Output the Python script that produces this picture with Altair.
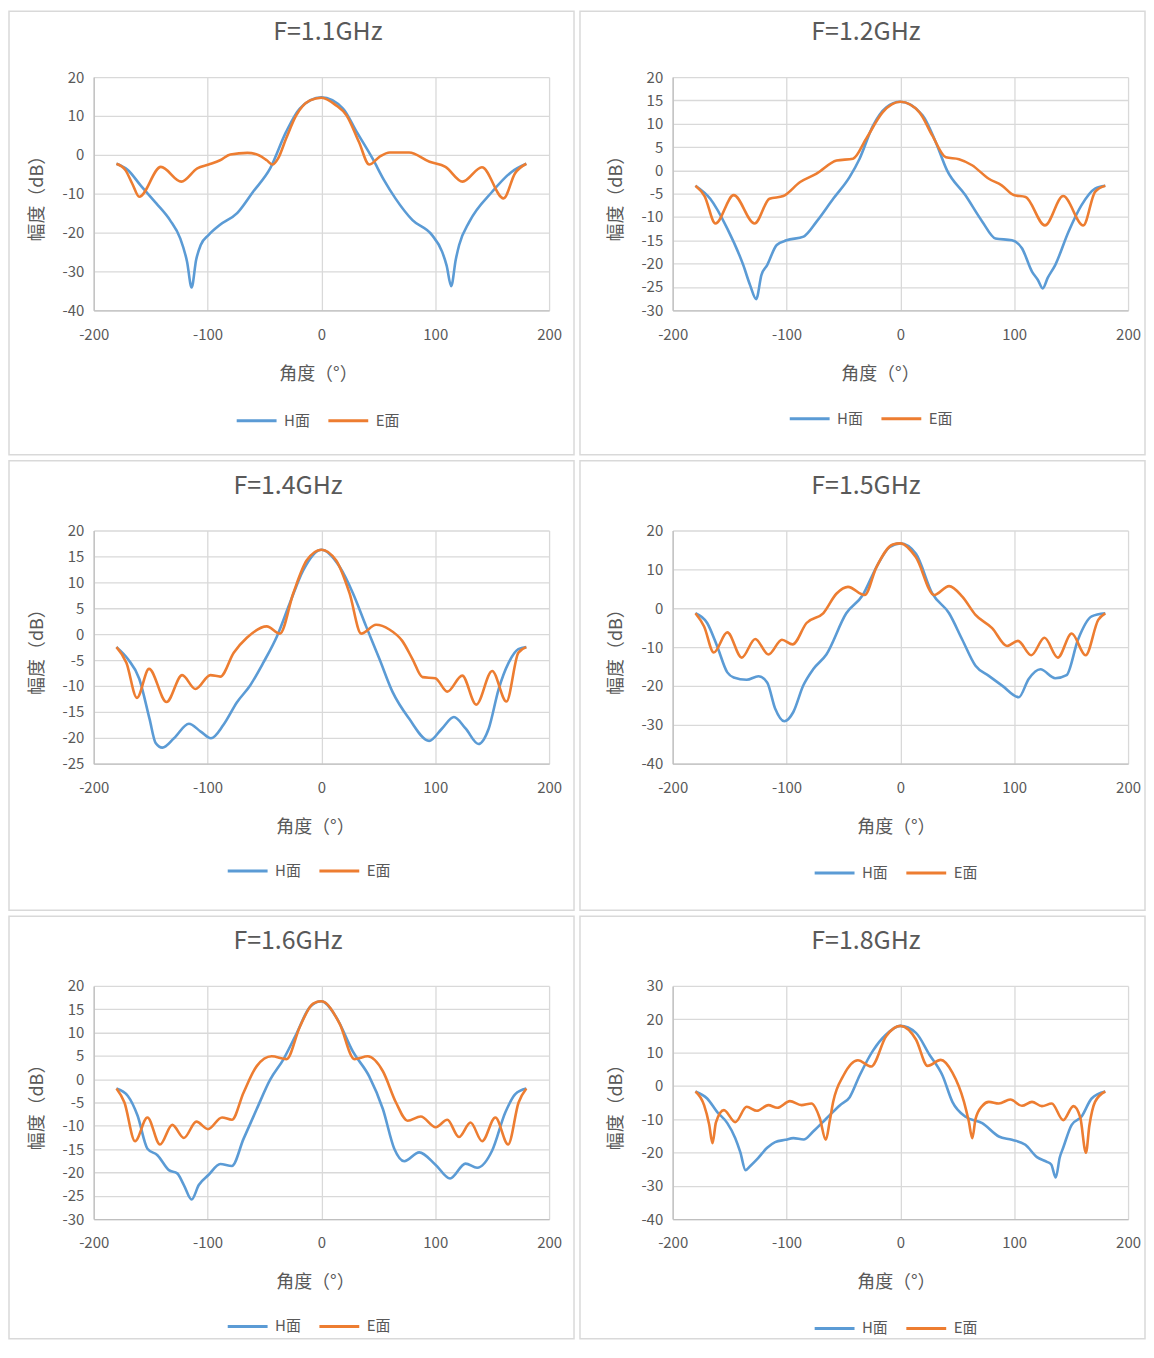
import altair as alt
import pandas as pd

FONT = "Noto Sans CJK SC"
TEXT = "#595959"
GRID = "#D9D9D9"
AXIS = "#BFBFBF"
BLUE = "#5B9BD5"
ORANGE = "#ED7D31"
SERIES = ["H面", "E面"]
X_TICKS = [-200, -100, 0, 100, 200]
X_TITLE = "角度（°）"
Y_TITLE = "幅度（dB）"

TITLES = ["F=1.1GHz", "F=1.2GHz", "F=1.4GHz", "F=1.5GHz", "F=1.6GHz", "F=1.8GHz"]

# ---------- 1.1 GHz ----------
Y11 = [-40, -30, -20, -10, 0, 10, 20]
H11_DEG = [-180, -170, -159, -145, -133, -124, -118, -114, -110, -106, -99, -89, -74, -60, -45, -31, -19, 0,
           19, 31, 45, 55, 65, 80, 97, 106, 110, 114, 118, 121, 130, 150, 167, 180]
H11_DB = [-2.3, -3.9, -7.8, -12.5, -16.8, -21.5, -27.5, -34.1, -27.0, -23.2, -20.6, -18.0, -15.0, -9.5, -3.5, 5.9, 11.9, 14.8,
          11.9, 5.9, -1.0, -6.5, -11.2, -16.8, -20.6, -24.9, -28.5, -33.8, -27.0, -23.2, -17.2, -9.5, -4.4, -2.3]
E11_DEG = [-180, -172, -166, -160, -141, -123, -109, -99, -89, -80, -65, -55, -48, -43, -38, -31, -22, -10, 0,
           13, 22, 33, 42, 51, 60, 77, 95, 109, 124, 141, 160, 170, 180]
E11_DB = [-2.3, -4.0, -7.5, -10.8, -3.1, -6.9, -3.5, -2.5, -1.4, 0.1, 0.5, -0.1, -1.4, -2.5, -0.9, 4.2, 10.2, 14.0, 14.7,
          12.7, 10.2, 3.3, -2.5, -0.5, 0.6, 0.6, -1.8, -3.1, -6.9, -3.2, -11.2, -4.8, -2.3]

# ---------- 1.2 GHz ----------
Y12 = [-30, -25, -20, -15, -10, -5, 0, 5, 10, 15, 20]
H12_DEG = [-180, -167, -152, -138, -132, -126.6, -122, -117, -108.6, -100, -85, -73.6, -59, -44.5, -35.8, -24, -12.5, 0,
           19.5, 31, 41, 57, 72, 83.5, 98, 106.8, 115.6, 120.8, 125, 129.5, 136, 147.6, 159, 171, 180]
H12_DB = [-3.3, -6.1, -12.5, -20.3, -24.6, -27.6, -22.4, -20.3, -16.0, -15.0, -14.2, -11.0, -6.1, -1.4, 2.5, 9.6, 13.5, 14.7,
          11.8, 6.1, 0.0, -5.3, -11.0, -14.6, -15.0, -16.7, -21.7, -23.5, -25.3, -23.0, -20.3, -13.2, -7.5, -3.9, -3.3]
E12_DEG = [-180, -172, -162.4, -146.4, -128, -115, -102.8, -88, -73.6, -56, -41.6, -30, -15.4, 0,
           16.6, 28, 40, 51.5, 63, 77.7, 89, 99.6, 110, 127, 143, 160.7, 171, 180]
E12_DB = [-3.3, -5.5, -11.4, -5.3, -11.4, -6.1, -5.5, -2.5, -0.7, 2.1, 2.5, 6.8, 12.5, 14.7,
          12.5, 7.5, 2.8, 2.4, 1.1, -1.8, -3.2, -5.3, -5.7, -11.8, -5.5, -11.8, -4.6, -3.3]

# ---------- 1.4 GHz ----------
Y14 = [-25, -20, -15, -10, -5, 0, 5, 10, 15, 20]
H14_DEG = [-180, -170, -160, -151, -145.6, -139.7, -129.5, -116.4, -106, -97, -86, -74, -62.6, -51, -39, -27.7, -16, 0,
           16, 27.7, 39.3, 51, 62.6, 77, 94.6, 106, 116.4, 126.6, 138, 147, 155.7, 164.5, 173, 180]
H14_DB = [-2.5, -4.8, -8.6, -16.3, -21.0, -21.9, -20.1, -17.3, -18.8, -20.1, -17.5, -13.1, -9.9, -5.5, -0.4, 6.0, 12.3, 16.3,
          13.0, 7.9, 1.5, -4.8, -11.2, -16.3, -20.6, -18.2, -16.0, -18.2, -21.2, -18.2, -10.6, -5.5, -2.9, -2.5]
E14_DEG = [-180, -171.3, -162, -151.4, -136, -122.3, -110.6, -97.5, -88.8, -77, -65.5, -48, -36.4, -24.7, -13, 0,
           13, 24.7, 35, 48, 59.7, 71, 80, 88.8, 100, 110.6, 123.7, 136, 150, 162.5, 173, 180]
E14_DB = [-2.5, -5.5, -12.3, -6.7, -13.1, -7.9, -10.6, -7.9, -8.2, -3.6, -0.7, 1.5, 0.1, 7.9, 14.2, 16.3,
          14.2, 7.9, 0.1, 1.8, 0.9, -1.3, -4.8, -8.3, -8.5, -11.1, -8.0, -13.6, -7.1, -13.0, -3.6, -2.5]

# ---------- 1.5 GHz ----------
Y15 = [-40, -30, -20, -10, 0, 10, 20]
H15_DEG = [-180, -169.7, -161, -152, -146.4, -135, -124.6, -117, -110, -101.9, -94, -85.3, -76.6, -65, -47.5, -33, -21, -9.6, 0,
           13.7, 28, 42.8, 54.4, 66, 77.7, 89.4, 104, 112.7, 123, 136, 146, 156, 168, 180]
H15_DB = [-1.3, -3.8, -9.7, -16.5, -17.8, -18.4, -17.5, -19.1, -25.8, -29.1, -26.7, -19.9, -15.7, -11.9, -1.3, 3.4, 10.6, 15.7, 16.7,
          14.0, 3.8, -1.3, -8.1, -14.8, -17.4, -19.9, -22.9, -18.2, -15.7, -18.0, -17.2, -8.1, -2.1, -1.3]
E15_DEG = [-180, -172.4, -163.9, -152, -139.3, -127.5, -115.9, -104, -94.6, -82.4, -67.8, -56, -46, -31.4, -21, -6.7, 0,
           13.7, 29.7, 42.8, 54.4, 66, 80.6, 93.7, 103.3, 115, 126.6, 138.3, 150.5, 162.7, 173.8, 180]
E15_DB = [-1.3, -4.7, -11.4, -6.2, -12.7, -7.9, -11.9, -8.1, -9.3, -3.8, -1.3, 3.8, 5.5, 3.4, 10.6, 16.4, 16.7,
          13.1, 3.4, 5.7, 3.0, -1.7, -5.1, -9.7, -8.4, -12.1, -7.6, -12.7, -6.5, -12.1, -3.0, -1.3]

# ---------- 1.6 GHz ----------
Y16 = [-30, -25, -20, -15, -10, -5, 0, 5, 10, 15, 20]
H16_DEG = [-180, -170, -161.5, -152.8, -144, -134, -126.6, -120.8, -114, -107.7, -99, -88.8, -78.6, -68.4, -56.8, -45, -33.5, -21.8, -10, 0,
           13, 27.7, 42, 54, 64, 72.8, 85.9, 100.4, 113, 126.6, 136.8, 150, 161.6, 170.3, 180]
H16_DB = [-2.0, -3.6, -7.8, -14.9, -16.3, -19.5, -20.2, -22.7, -25.8, -22.7, -20.5, -18.2, -18.6, -12.8, -6.4, -0.1, 4.2, 9.8, 15.5, 16.7,
          13.3, 5.9, 0.6, -6.4, -14.9, -17.6, -15.7, -18.4, -21.3, -18.1, -19.0, -15.3, -7.1, -3.2, -2.0]
E16_DEG = [-180, -173, -163.7, -152.8, -141.8, -131, -120.8, -109.8, -99.6, -87.3, -78.6, -68.4, -56.8, -43.7, -30.6, -19, -7.3, 0,
           16, 29, 40.8, 54, 65.5, 75.7, 87.3, 100.4, 110.6, 120.8, 131, 141.2, 152.8, 164, 173.2, 180]
E16_DB = [-2.0, -5.0, -13.3, -8.2, -14.0, -9.8, -12.6, -9.1, -10.7, -8.2, -8.7, -2.9, 2.8, 4.9, 4.3, 11.2, 16.2, 16.7,
          11.9, 4.3, 4.9, 1.7, -5.0, -8.9, -8.0, -10.3, -8.7, -12.4, -9.3, -13.3, -8.2, -14.0, -5.0, -2.0]

# ---------- 1.8 GHz ----------
Y18 = [-40, -30, -20, -10, 0, 10, 20, 30]
H18_DEG = [-180, -169.7, -161, -152, -145, -140.6, -136, -131.6, -126, -117, -110, -101, -94, -85, -76.6, -65, -53, -44.5, -35.8, -24.2, -12.5, 0,
           13.7, 25.3, 37, 45.7, 57.3, 71.9, 86.5, 98, 109.8, 120, 128.7, 132.5, 136.5, 140, 143, 150.5, 159, 168, 180]
H18_DB = [-1.7, -3.8, -7.8, -11.2, -15.7, -19.9, -25.3, -24.0, -22.1, -18.6, -16.9, -16.2, -15.7, -16.1, -13.7, -9.8, -5.8, -3.4, 3.1, 10.5, 15.4, 18.0,
          15.9, 9.5, 3.1, -4.8, -9.3, -11.2, -15.2, -16.2, -17.7, -21.4, -22.8, -23.6, -27.5, -21.5, -18.6, -11.7, -9.3, -3.8, -1.7]
E18_DEG = [-180, -172.4, -168, -165, -162, -155, -145, -135, -126, -116, -108, -97, -86.8, -78, -70.7, -65.5, -62, -59, -50, -37.3, -25.6, -12.5, 0,
           13.7, 23.9, 35.5, 45.7, 55.9, 60, 63.2, 66, 72, 77.7, 86.5, 96.6, 106.8, 115.6, 124.3, 133, 143, 152, 158, 163, 166, 171, 180]
E18_DB = [-1.7, -5.8, -11.5, -17.2, -11.0, -7.3, -10.9, -6.3, -7.5, -5.8, -6.6, -4.6, -5.8, -5.3, -9.8, -16.2, -10.5, -4.8, 3.1, 7.7, 5.8, 14.9, 18.0,
          13.9, 6.0, 7.8, 4.0, -4.8, -10.5, -15.7, -10.0, -6.0, -4.8, -5.3, -4.1, -6.0, -4.8, -6.1, -5.3, -10.3, -6.1, -9.5, -20.1, -12.0, -4.8, -1.7]

PANEL_DATA = [
    (H11_DEG, H11_DB, E11_DEG, E11_DB, Y11),
    (H12_DEG, H12_DB, E12_DEG, E12_DB, Y12),
    (H14_DEG, H14_DB, E14_DEG, E14_DB, Y14),
    (H15_DEG, H15_DB, E15_DEG, E15_DB, Y15),
    (H16_DEG, H16_DB, E16_DEG, E16_DB, Y16),
    (H18_DEG, H18_DB, E18_DEG, E18_DB, Y18),
]

# layout (pixels relative to each plot area): frame x0, x1, y0, y1, title x, x-title x, legend x, legend y
LAYOUT = [
    (-85, 482, -66, 379, 235, 225, 142, 323),
    (-93, 474, -66, 379, 194, 208, 116, 321),
    (-85, 482, -70, 381, 195, 222, 133, 320),
    (-93, 474, -70, 381, 194, 224, 141, 322),
    (-85, 482, -70, 354, 195, 222, 133, 320),
    (-93, 474, -70, 354, 194, 224, 141, 322),
]

W, H = 457, 234
LABEL_EXPR = "'' + datum.value"


def panel(title, data, layout):
    h_deg, h_db, e_deg, e_db, y_ticks = data
    fx0, fx1, fy0, fy1, tx, xtx, lx, ly = layout
    one = pd.DataFrame({"k": [0]})
    h_df = pd.DataFrame({"deg": h_deg, "db": h_db, "series": SERIES[0]})
    e_df = pd.DataFrame({"deg": e_deg, "db": e_db, "series": SERIES[1]})

    x = alt.X("deg:Q", scale=alt.Scale(domain=[-200, 200], nice=False, zero=False),
              axis=alt.Axis(values=X_TICKS, title=X_TITLE, grid=True, gridColor=GRID, gridWidth=1.3,
                            domainColor=AXIS, domainWidth=1.3, ticks=False, labelExpr=LABEL_EXPR,
                            labelFont=FONT, labelFontSize=15, labelColor=TEXT, labelPadding=17,
                            labelFlush=False, labelOverlap=False,
                            titleFont=FONT, titleFontSize=18, titleColor=TEXT, titleFontWeight="normal",
                            titleX=xtx, titleY=64, titleBaseline="middle", titleAlign="center"))
    y = alt.Y("db:Q", scale=alt.Scale(domain=[y_ticks[0], y_ticks[-1]], nice=False, zero=False),
              axis=alt.Axis(values=y_ticks, title=Y_TITLE, grid=True, gridColor=GRID, gridWidth=1.3,
                            domainColor=AXIS, domainWidth=1.3, ticks=False, labelExpr=LABEL_EXPR,
                            labelFont=FONT, labelFontSize=15, labelColor=TEXT, labelPadding=10,
                            labelFlush=False, labelOverlap=False,
                            titleFont=FONT, titleFontSize=18, titleColor=TEXT, titleFontWeight="normal",
                            titleX=-56, titleY=H / 2, titleAngle=270, titleBaseline="middle",
                            titleAlign="center"))
    color = alt.Color("series:N", scale=alt.Scale(domain=SERIES, range=[BLUE, ORANGE]),
                      legend=alt.Legend(title=None, orient="none", legendX=lx, legendY=ly,
                                        direction="horizontal", columns=2, symbolType="stroke",
                                        symbolSize=1600, symbolStrokeWidth=3,
                                        labelFont=FONT, labelFontSize=15, labelColor=TEXT,
                                        labelOffset=6, columnPadding=12, padding=0))

    frame = alt.Chart(one).mark_rect(fill="transparent", stroke=GRID, strokeWidth=1.5).encode(
        x=alt.value(fx0), x2=alt.value(fx1), y=alt.value(fy0), y2=alt.value(fy1))
    ttl = alt.Chart(one).mark_text(font=FONT, fontSize=25, color=TEXT, align="center",
                                   baseline="middle").encode(
        x=alt.value(tx), y=alt.value(-45), text=alt.value(title))
    h_line = alt.Chart(h_df).mark_line(interpolate="monotone", strokeWidth=2.6).encode(
        x=x, y=y, color=color)
    e_line = alt.Chart(e_df).mark_line(interpolate="monotone", strokeWidth=2.6).encode(
        x=x, y=y, color=color)
    return alt.layer(frame, ttl, h_line, e_line).properties(width=W, height=H)


panels = [panel(TITLES[i], PANEL_DATA[i], LAYOUT[i]) for i in range(6)]
rows = [
    alt.hconcat(panels[2 * r], panels[2 * r + 1], spacing=4).resolve_scale(
        color="independent", x="independent", y="independent")
    for r in range(3)
]
chart = (
    alt.vconcat(*rows, spacing=4)
    .resolve_scale(color="independent", x="independent", y="independent")
    .properties(padding=0, background="white")
    .configure_view(strokeWidth=0)
)

chart.save("out.html", embed_options={"renderer": "svg", "actions": False})
